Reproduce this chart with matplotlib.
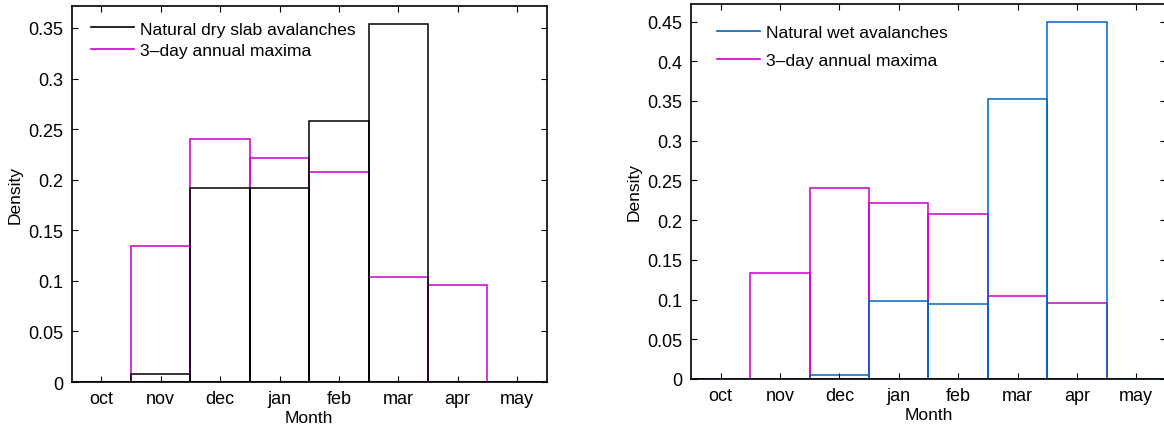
import matplotlib
matplotlib.use("Agg")
import matplotlib.pyplot as plt
from matplotlib.lines import Line2D
from matplotlib.ticker import FuncFormatter

# Datos: densidad mensual de avalanchas y de maximos anuales de 3 dias
meses = ["oct", "nov", "dec", "jan", "feb", "mar", "apr", "may"]
posiciones = [1, 2, 3, 4, 5, 6, 7, 8]

maximos_3dias = [0.0, 0.134, 0.240, 0.221, 0.2075, 0.104, 0.096, 0.0]
aval_secas = [0.0, 0.0076, 0.1917, 0.1917, 0.2578, 0.354, 0.0, 0.0]
aval_humedas = [0.0, 0.0, 0.0045, 0.0986, 0.094, 0.352, 0.450, 0.0]

ticks_izq = [0, 0.05, 0.1, 0.15, 0.2, 0.25, 0.3, 0.35]
ticks_der = [0, 0.05, 0.1, 0.15, 0.2, 0.25, 0.3, 0.35, 0.4, 0.45]

MAGENTA = (0.80, 0.0, 0.80)
AZUL = (0.0, 0.40, 0.76)

plt.rcParams["font.family"] = ["Liberation Sans", "DejaVu Sans"]
plt.rcParams["font.size"] = 12

fig = plt.figure(figsize=(11.64, 4.27), dpi=100)
ax1 = fig.add_axes([0.0616, 0.1030, 0.4081, 0.8813])
ax2 = fig.add_axes([0.5936, 0.1101, 0.4081, 0.8789])


def histograma(ax, serie, color):
    ax.bar(posiciones, serie, width=1.0, fill=False, edgecolor=color,
           linewidth=1.1)


def formato_ejes(ax, ticks, ymax):
    ax.set_xlim(0.5, 8.5)
    ax.set_ylim(0, ymax)
    ax.set_xticks(posiciones)
    ax.set_xticklabels(meses)
    ax.set_yticks(ticks)
    ax.yaxis.set_major_formatter(FuncFormatter(lambda v, p: f"{v:g}"))
    ax.tick_params(direction="in", length=4, width=0.8, top=True, right=True,
                   pad=6, labelsize=13)
    for sp in ax.spines.values():
        sp.set_linewidth(1.2)
        sp.set_zorder(5)
    ax.set_xlabel("Month", labelpad=2, fontsize=12.5)
    ax.set_ylabel("Density", labelpad=4, fontsize=12.5)


def leyenda(ax, colores, textos, ancla, espacio):
    lineas = [Line2D([], [], color=c, linewidth=1.2) for c in colores]
    ax.legend(lineas, textos, loc="upper left", bbox_to_anchor=ancla,
              frameon=False, borderpad=0, borderaxespad=0, handlelength=2.45,
              handletextpad=0.34, labelspacing=espacio, fontsize=12.6)


# Subgrafico 1: avalanchas secas
histograma(ax1, maximos_3dias, MAGENTA)
histograma(ax1, aval_secas, "black")
formato_ejes(ax1, ticks_izq, 0.372)
leyenda(ax1, ["black", MAGENTA],
        ["Natural dry slab avalanches", "3\u2013day annual maxima"],
        (0.04, 0.9585), 0.37)

# Subgrafico 2: avalanchas humedas
histograma(ax2, maximos_3dias, MAGENTA)
histograma(ax2, aval_humedas, AZUL)
formato_ejes(ax2, ticks_der, 0.4725)
leyenda(ax2, [AZUL, MAGENTA],
        ["Natural wet avalanches", "3\u2013day annual maxima"],
        (0.0554, 0.9433), 0.7)

fig.savefig("out.png", dpi=100)
